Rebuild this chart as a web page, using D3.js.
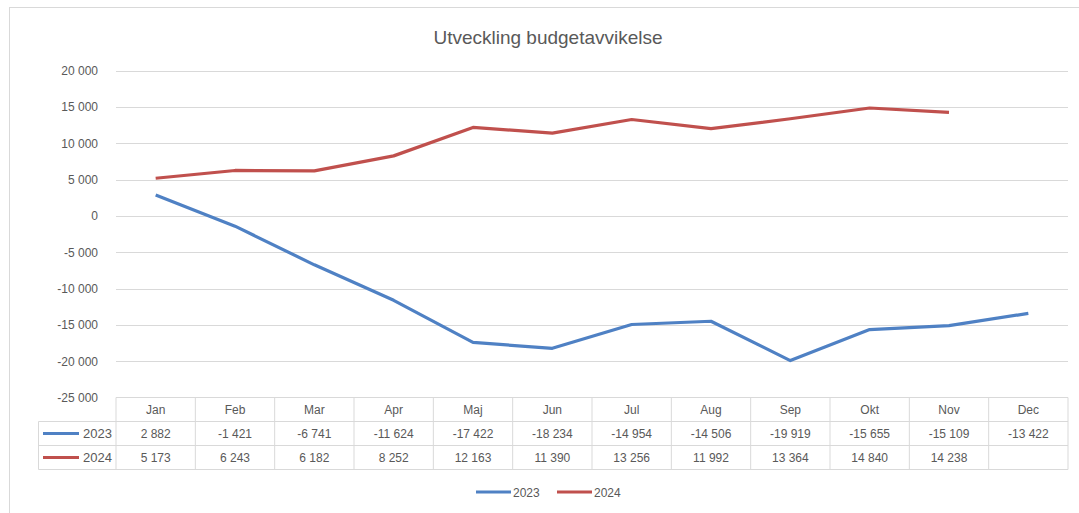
<!DOCTYPE html>
<html>
<head>
<meta charset="utf-8">
<script src="https://cdn.jsdelivr.net/npm/d3@7"></script>
<style>
  body { margin: 0; background: #fff; }
  svg { display: block; font-family: "Liberation Sans", Arial, sans-serif; }
</style>
</head>
<body>
<svg id="chart" width="1079" height="513"></svg>
<script>
const months = ['Jan', 'Feb', 'Mar', 'Apr', 'Maj', 'Jun', 'Jul', 'Aug', 'Sep', 'Okt', 'Nov', 'Dec'];
const v2023 = [2882, -1421, -6741, -11624, -17422, -18234, -14954, -14506, -19919, -15655, -15109, -13422];
const v2024 = [5173, 6243, 6182, 8252, 12163, 11390, 13256, 11992, 13364, 14840, 14238, null];
const yTicks = [20000, 15000, 10000, 5000, 0, -5000, -10000, -15000, -20000, -25000];

const seriesList = [
  { name: '2023', values: v2023, color: '#4f81c4' },
  { name: '2024', values: v2024, color: '#c0504d' }
];

const svg = d3.select('#chart');
const textCol = '#595959';
const gridCol = '#d9d9d9';

// swedish style numbers: space as thousands separator, plain hyphen minus
const locale = d3.formatLocale({ decimal: ',', thousands: ' ', grouping: [3], currency: ['', ''], minus: '-' });
const fmt = locale.format(',');

// outer chart frame
svg.append('rect')
  .attr('x', 9.5).attr('y', 7.5)
  .attr('width', 1100).attr('height', 520)
  .attr('fill', 'none').attr('stroke', '#d9d9d9');

svg.append('text')
  .attr('x', 548).attr('y', 44)
  .attr('text-anchor', 'middle')
  .style('font-size', '19px')
  .style('fill', textCol)
  .text('Utveckling budgetavvikelse');

const left = 116, right = 1068;
const x = d3.scaleBand().domain(months).range([left, right]);
const y = d3.scaleLinear().domain([-25000, 20000]).range([397.5, 70.5]);

// gridlines
svg.append('g')
  .selectAll('line')
  .data(yTicks.filter(t => t !== -25000))
  .join('line')
  .attr('x1', left).attr('x2', right)
  .attr('y1', d => Math.round(y(d)) + 0.5)
  .attr('y2', d => Math.round(y(d)) + 0.5)
  .attr('stroke', gridCol);

// y axis labels
const yAxis = d3.axisLeft(y).tickValues(yTicks).tickSize(0).tickPadding(0).tickFormat(fmt);
svg.append('g')
  .attr('transform', 'translate(98,0)')
  .call(yAxis)
  .call(g => g.select('.domain').remove())
  .call(g => g.selectAll('text')
    .style('font-size', '12px')
    .style('fill', textCol)
    .style('font-family', '"Liberation Sans", Arial, sans-serif'));

// lines
const line = d3.line()
  .defined(d => d != null)
  .x((d, i) => x(months[i]) + x.bandwidth() / 2)
  .y(d => y(d));

seriesList.forEach(s => {
  svg.append('path')
    .datum(s.values)
    .attr('d', line)
    .attr('fill', 'none')
    .attr('stroke', s.color)
    .attr('stroke-width', 3.2)
    .attr('stroke-linejoin', 'round');
});

// data table
const tTop = 397.5, rowH = 24, labelLeft = 38.5;
const tg = svg.append('g');
tg.append('line').attr('x1', left).attr('x2', right).attr('y1', tTop).attr('y2', tTop).attr('stroke', gridCol);
[1, 2, 3].forEach(r => {
  tg.append('line').attr('x1', labelLeft).attr('x2', right)
    .attr('y1', tTop + r * rowH).attr('y2', tTop + r * rowH).attr('stroke', gridCol);
});
tg.append('line').attr('x1', labelLeft).attr('x2', labelLeft)
  .attr('y1', tTop + rowH).attr('y2', tTop + 3 * rowH).attr('stroke', gridCol);
months.forEach(m => {
  tg.append('line').attr('x1', x(m)).attr('x2', x(m))
    .attr('y1', tTop).attr('y2', tTop + 3 * rowH).attr('stroke', gridCol);
});
tg.append('line').attr('x1', right).attr('x2', right)
  .attr('y1', tTop).attr('y2', tTop + 3 * rowH).attr('stroke', gridCol);

tg.selectAll('text.head')
  .data(months)
  .join('text')
  .attr('class', 'head')
  .attr('x', d => x(d) + x.bandwidth() / 2)
  .attr('y', tTop + rowH / 2 + 4.5)
  .attr('text-anchor', 'middle')
  .style('font-size', '12px')
  .style('fill', textCol)
  .text(d => d);

seriesList.forEach((s, r) => {
  const cy = tTop + (r + 1) * rowH + rowH / 2;
  tg.append('line')
    .attr('x1', 43).attr('x2', 79)
    .attr('y1', cy).attr('y2', cy)
    .attr('stroke', s.color).attr('stroke-width', 3.2);
  tg.append('text')
    .attr('x', 112).attr('y', cy + 4.5)
    .attr('text-anchor', 'end')
    .style('font-size', '13px')
    .style('fill', textCol)
    .text(s.name);
  tg.selectAll('text.v' + s.name)
    .data(s.values)
    .join('text')
    .attr('x', (d, i) => x(months[i]) + x.bandwidth() / 2)
    .attr('y', cy + 4.5)
    .attr('text-anchor', 'middle')
    .style('font-size', '12px')
    .style('fill', textCol)
    .text(d => d == null ? '' : fmt(d));
});

// legend
const lg = svg.append('g').attr('transform', 'translate(476,492)');
seriesList.forEach((s, i) => {
  const ox = i * 81;
  lg.append('line').attr('x1', ox).attr('x2', ox + 35).attr('y1', 0).attr('y2', 0)
    .attr('stroke', s.color).attr('stroke-width', 3.2);
  lg.append('text').attr('x', ox + 37).attr('y', 4.5)
    .style('font-size', '12px').style('fill', textCol).text(s.name);
});
</script>
</body>
</html>
